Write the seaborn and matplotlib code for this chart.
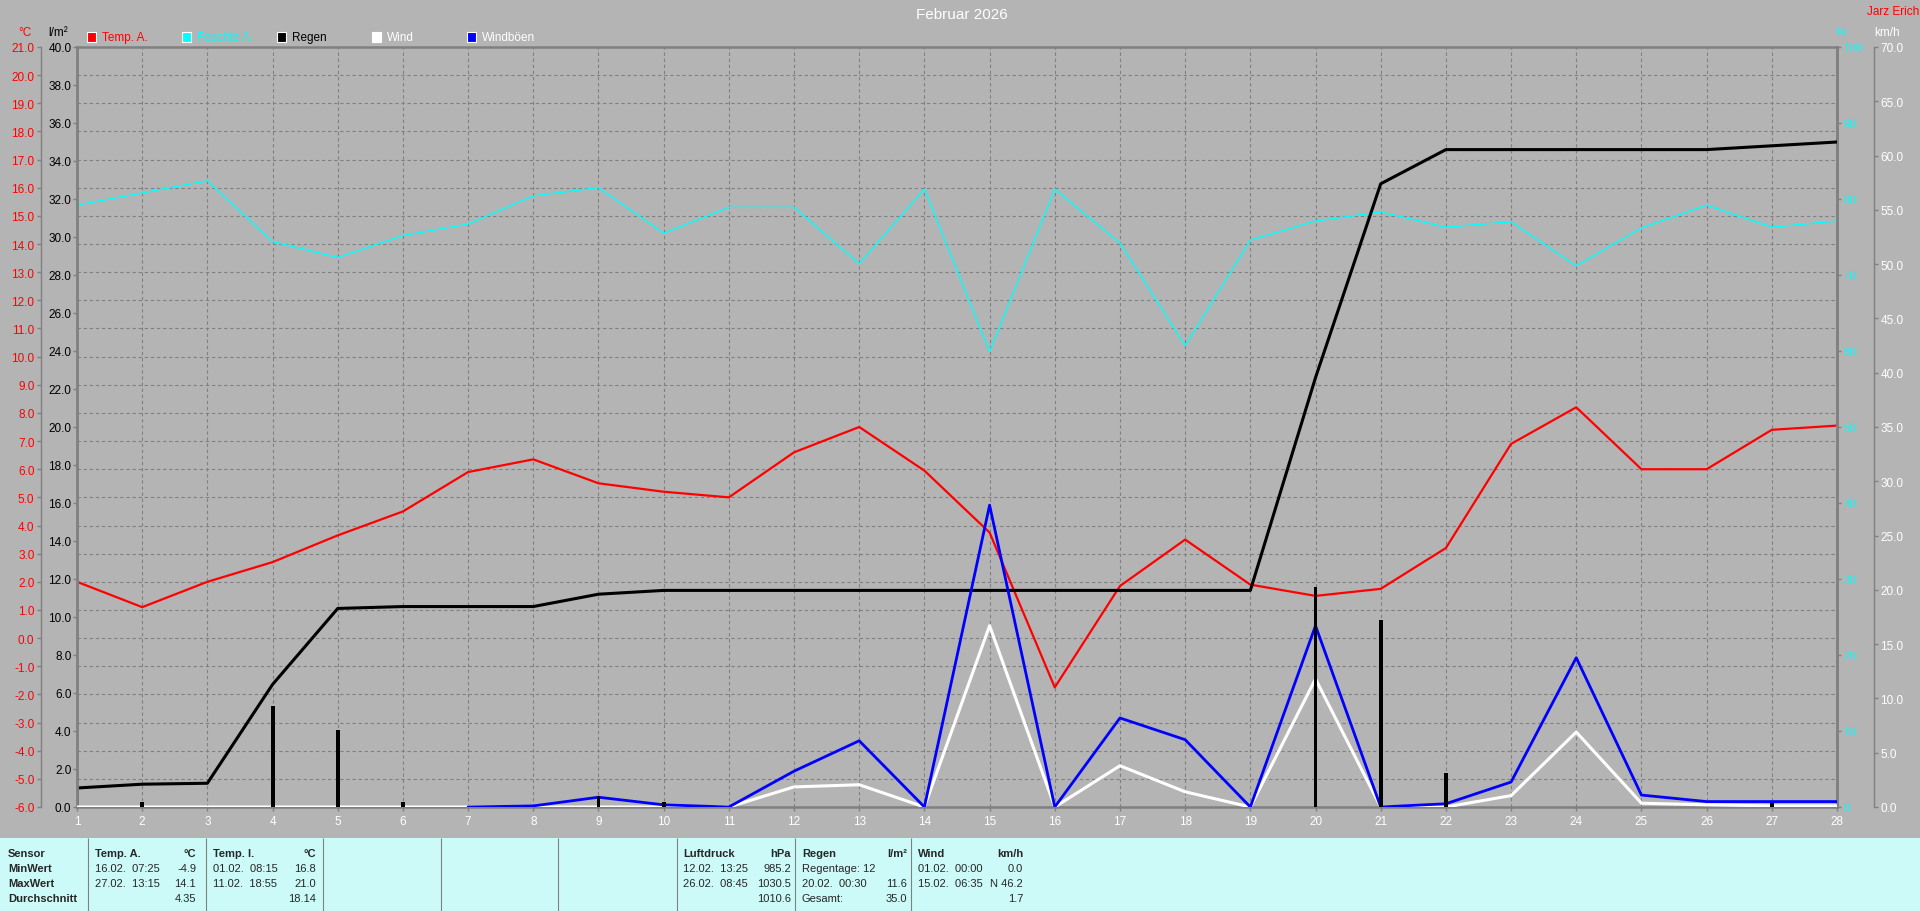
import numpy as np
import matplotlib
matplotlib.use('Agg')
import matplotlib.pyplot as plt
import seaborn as sns
from matplotlib.patches import Rectangle

# Tageswerte Februar 2026
tage = list(range(1, 29))
temp_aussen = [2.0, 1.1, 2.0, 2.7, 3.65, 4.5, 5.9, 6.35, 5.5, 5.2, 5.0, 6.6, 7.5, 5.95,
               3.75, -1.75, 1.85, 3.5, 1.9, 1.5, 1.75, 3.2, 6.9, 8.2, 6.0, 6.0, 7.4, 7.55]
feuchte_aussen = [79.2, 80.8, 82.4, 74.4, 72.3, 75.2, 76.7, 80.4, 81.5, 75.5, 78.9, 78.9, 71.5, 81.3,
                  59.9, 81.3, 74.2, 60.7, 74.6, 77.1, 78.3, 76.3, 77.0, 71.2, 76.2, 79.2, 76.3, 77.1]

# Regen kumuliert (Start am 1. bei 0)
regen_summe_tage = [1] + tage
regen_summe = [0.0, 1.0, 1.2, 1.25, 6.45, 10.45, 10.55, 10.55, 10.55, 11.2, 11.4, 11.4, 11.4, 11.4,
               11.4, 11.4, 11.4, 11.4, 11.4, 11.4, 22.6, 32.8, 34.6, 34.6, 34.6, 34.6, 34.6, 34.8, 35.0]

# Regen pro Tag
regen_tage = [2, 4, 5, 6, 9, 10, 20, 21, 22, 27]
regen_tag = [0.25, 5.3, 4.05, 0.25, 0.6, 0.25, 11.6, 9.85, 1.8, 0.2]

wind = [0.0, 0.0, 0.0, 0.0, 0.0, 0.0, 0.0, 0.0, 0.0, 0.0, 0.0, 1.85, 2.05, 0.0,
        16.7, 0.0, 3.8, 1.4, 0.0, 11.8, 0.0, 0.0, 1.05, 6.9, 0.35, 0.2, 0.1, 0.1]
boeen_tage = list(range(7, 29))
boeen = [0.0, 0.1, 0.9, 0.2, 0.0, 3.3, 6.1, 0.0, 27.8, 0.0, 8.2, 6.2, 0.0, 16.7,
         0.0, 0.3, 2.3, 13.75, 1.1, 0.5, 0.5, 0.5]

# Tabelle unten
tab_zeilen = ['Sensor', 'MinWert', 'MaxWert', 'Durchschnitt']
tab_sensoren = ['Temp. A.', 'Temp. I.', 'Luftdruck', 'Regen', 'Wind']
tab_einheiten = ['°C', '°C', 'hPa', 'l/m²', 'km/h']
tab_zeit = [['16.02.  07:25', '27.02.  13:15', ''],
            ['01.02.  08:15', '11.02.  18:55', ''],
            ['12.02.  13:25', '26.02.  08:45', ''],
            ['Regentage: 12', '20.02.  00:30', 'Gesamt:'],
            ['01.02.  00:00', '15.02.  06:35', '']]
tab_wert = [['-4.9', '14.1', '4.35'],
            ['16.8', '21.0', '18.14'],
            ['985.2', '1030.5', '1010.6'],
            ['', '11.6', '35.0'],
            ['0.0', 'N 46.2', '1.7']]

BG = '#b4b4b4'
GRID = '#808080'
TAB_BG = '#ccfaf8'

sns.set_style('ticks')
plt.rcParams['font.family'] = ['Liberation Sans', 'DejaVu Sans']
plt.rcParams['font.size'] = 8.5

W, H = 1920, 912
fig = plt.figure(figsize=(W / 100, H / 100), dpi=100, facecolor=BG)

L, R, B, T = 77, 1837, 808, 48
pw = R - L
ax_t = fig.add_axes([L / W, 1 - B / H, pw / W, (B - T) / H], facecolor=BG)

# --- Temperatur (Basis, Gitter) ---
sns.lineplot(x=tage, y=temp_aussen, ax=ax_t, color='red', lw=1.6, estimator=None)
ax_t.set_xlim(1, 28)
ax_t.set_ylim(-6, 21)
ax_t.set_yticks(np.arange(-6, 22, 1))
ax_t.set_yticklabels([f'{v:.1f}' for v in np.arange(-6, 22, 1)])
ax_t.set_xticks(tage)
ax_t.set_xticklabels([str(d) for d in tage])
ax_t.tick_params(axis='y', colors=GRID, labelcolor='red', length=3, width=1, pad=1.5, direction='out')
ax_t.tick_params(axis='x', colors=GRID, labelcolor='white', length=3, width=1, pad=3, direction='out')
ax_t.grid(True, color=GRID, linestyle=(0, (3, 2.5)), lw=0.8)
ax_t.spines['left'].set_position(('axes', -36.3 / pw))
ax_t.spines['left'].set_color(GRID)
ax_t.spines['left'].set_linewidth(1)
for s in ['top', 'right', 'bottom']:
    ax_t.spines[s].set_color(GRID)
    ax_t.spines[s].set_linewidth(1.8)
ax_t.set_xlabel('')
ax_t.set_ylabel('')

# --- Feuchte ---
ax_h = ax_t.twinx()
sns.lineplot(x=tage, y=feuchte_aussen, ax=ax_h, color='cyan', lw=1, estimator=None)
ax_h.set_ylim(0, 100)
ax_h.set_yticks(np.arange(0, 101, 10))
ax_h.tick_params(axis='y', colors=GRID, labelcolor='cyan', length=3, width=1, pad=1.5)
for s in ['left', 'top', 'bottom']:
    ax_h.spines[s].set_visible(False)
ax_h.spines['right'].set_color(GRID)
ax_h.spines['right'].set_linewidth(1.8)
ax_h.set_ylabel('')

# --- Regen kumuliert ---
ax_r = ax_t.twinx()
sns.lineplot(x=regen_summe_tage, y=regen_summe, ax=ax_r, color='black', lw=2.2, estimator=None)
ax_r.set_ylim(0, 40)
ax_r.yaxis.tick_left()
ax_r.yaxis.set_label_position('left')
ax_r.set_yticks(np.arange(0, 41, 2))
ax_r.set_yticklabels([f'{v:.1f}' for v in np.arange(0, 41, 2)])
ax_r.tick_params(axis='y', colors=GRID, labelcolor='black', length=3, width=1, pad=1)
for s in ['right', 'top', 'bottom']:
    ax_r.spines[s].set_visible(False)
ax_r.spines['left'].set_visible(True)
ax_r.spines['left'].set_color(GRID)
ax_r.spines['left'].set_linewidth(2)
ax_r.set_ylabel('')

# --- Wind ---
ax_w = ax_t.twinx()
sns.lineplot(x=tage, y=wind, ax=ax_w, color='white', lw=2.2, estimator=None)
sns.lineplot(x=boeen_tage, y=boeen, ax=ax_w, color='blue', lw=2, estimator=None)
ax_w.set_ylim(0, 70)
ax_w.set_yticks(np.arange(0, 71, 5))
ax_w.set_yticklabels([f'{v:.1f}' for v in np.arange(0, 71, 5)])
ax_w.tick_params(axis='y', colors=GRID, labelcolor='white', length=3, width=1, pad=1.5)
for s in ['left', 'top', 'bottom']:
    ax_w.spines[s].set_visible(False)
ax_w.spines['right'].set_position(('axes', 1 + 37 / pw))
ax_w.spines['right'].set_color(GRID)
ax_w.spines['right'].set_linewidth(1)
ax_w.set_ylabel('')

# --- Regen pro Tag (Balken) ---
ax_b = ax_t.twinx()
ax_b.bar(regen_tage, regen_tag, width=0.06, color='black', edgecolor='black', linewidth=0)
ax_b.set_ylim(0, 40)
ax_b.set_yticks([])
for s in ax_b.spines.values():
    s.set_visible(False)

# Titel und Achsenbeschriftungen
fig.text(962 / W, 1 - 15 / H, 'Februar 2026', color='white', fontsize=11, ha='center', va='center')
fig.text(1893 / W, 1 - 12 / H, 'Jarz Erich', color='red', ha='center', va='center')
fig.text(25 / W, 1 - 33 / H, '°C', color='red', ha='center', va='center')
fig.text(58 / W, 1 - 33 / H, 'l/m²', color='black', ha='center', va='center')
fig.text(1841 / W, 1 - 33 / H, '%', color='cyan', ha='center', va='center')
fig.text(1887 / W, 1 - 33 / H, 'km/h', color='white', ha='center', va='center')

# Legende
leg_namen = ['Temp. A.', 'Feuchte A.', 'Regen', 'Wind', 'Windböen']
leg_farben = ['red', 'cyan', 'black', 'white', 'blue']
leg_text = ['red', 'cyan', 'black', 'white', 'white']
for i, (name, c, tc) in enumerate(zip(leg_namen, leg_farben, leg_text)):
    x0 = 87 + i * 95
    fig.patches.append(Rectangle((x0 / W, 1 - 43 / H), 9 / W, 10 / H, transform=fig.transFigure,
                                 facecolor=c, edgecolor='white', lw=0.8))
    fig.text((x0 + 15) / W, 1 - 38 / H, name, color=tc, ha='left', va='center')

# Tabelle
ax_tab = fig.add_axes([0, 0, 1, (H - 839) / H], facecolor=TAB_BG)
ax_tab.set_xlim(0, W)
ax_tab.set_ylim(H, 839)
ax_tab.set_xticks([])
ax_tab.set_yticks([])
for s in ax_tab.spines.values():
    s.set_visible(False)
ax_tab.vlines([88, 206, 323, 441, 558, 677, 795, 911], 839, H, color=GRID, lw=0.8)

zeilen_y = [854, 869, 884, 899]
for y, txt in zip(zeilen_y, tab_zeilen):
    ax_tab.text(8, y, txt, fontsize=8, fontweight='bold', va='center', ha='left')

spalten_links = [95, 213, 683, 802, 918]
spalten_rechts = [196, 316, 791, 907, 1023]
for k in range(len(tab_sensoren)):
    xl, xr = spalten_links[k], spalten_rechts[k]
    ax_tab.text(xl, zeilen_y[0], tab_sensoren[k], fontsize=8, fontweight='bold', va='center', ha='left')
    ax_tab.text(xr, zeilen_y[0], tab_einheiten[k], fontsize=8, fontweight='bold', va='center', ha='right')
    for j in range(3):
        ax_tab.text(xl, zeilen_y[j + 1], tab_zeit[k][j], fontsize=8, va='center', ha='left')
        ax_tab.text(xr, zeilen_y[j + 1], tab_wert[k][j], fontsize=8, va='center', ha='right')

fig.savefig('out.png', dpi=100, facecolor=BG)
